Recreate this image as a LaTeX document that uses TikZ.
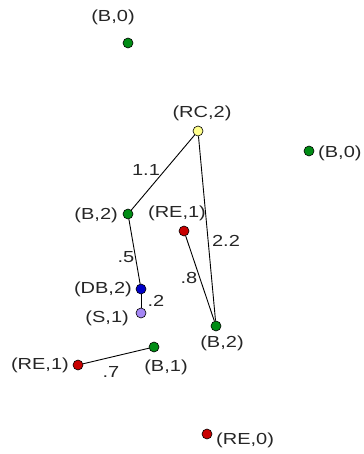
\documentclass[tikz,border=0pt]{standalone}
\usepackage{fontspec}
\setmainfont{Liberation Sans}[FakeStretch=1.25]
\definecolor{ngreen}{RGB}{0,140,20}
\definecolor{nred}{RGB}{200,0,0}
\definecolor{nyellow}{RGB}{255,255,140}
\definecolor{nblue}{RGB}{0,0,200}
\definecolor{npurple}{RGB}{165,135,245}
\begin{document}
\begin{tikzpicture}[x=1bp,y=-1bp,
  pt/.style={circle,draw=black,line width=0.6bp,inner sep=0pt,minimum size=10bp},
  gpt/.style={pt,fill=ngreen},
  rpt/.style={pt,fill=nred},
  ypt/.style={pt,fill=nyellow},
  bpt/.style={pt,fill=nblue},
  ppt/.style={pt,fill=npurple},
  lbl/.style={font=\fontsize{16bp}{18bp}\selectfont,inner sep=1bp,text=black!85},
  edge/.style={draw=black,line width=0.9bp}]
\useasboundingbox (0,0) rectangle (363,454);
\node[gpt] (b0t) at (128,43) {};
\node[ypt] (rc2) at (198,131) {};
\node[gpt] (b0r) at (309,151) {};
\node[gpt] (b2l) at (128,214) {};
\node[rpt] (re1u) at (184,231) {};
\node[bpt] (db2) at (141,289) {};
\node[ppt] (s1) at (141,313) {};
\node[gpt] (b2d) at (216,326) {};
\node[gpt] (b1) at (154,347) {};
\node[rpt] (re1l) at (78,365) {};
\node[rpt] (re0) at (207,434) {};
\node[lbl] (lb0t) at (113,17) {(B,0)};
\node[lbl] (lrc2) at (202,113) {(RC,2)};
\node[lbl,anchor=west] (lb0r) at (317,153) {(B,0)};
\node[lbl,anchor=east] (lb2l) at (119,215) {(B,2)};
\node[lbl] (lre1u) at (177,213) {(RE,1)};
\node[lbl,anchor=east] (ldb2) at (133,289) {(DB,2)};
\node[lbl,anchor=east] (ls1) at (130,318) {(S,1)};
\node[lbl] (lb2d) at (222,343) {(B,2)};
\node[lbl] (lb1) at (166,367) {(B,1)};
\node[lbl,anchor=east] (lre1l) at (70,365) {(RE,1)};
\node[lbl,anchor=west] (lre0) at (215,440) {(RE,0)};
\draw[edge] (rc2) -- (b2l);
\draw[edge] (rc2) -- (b2d);
\draw[edge] (b2l) -- (db2);
\draw[edge] (db2) -- (s1);
\draw[edge] (re1u) -- (b2d);
\draw[edge] (re1l) -- (b1);
\node[lbl] (e1) at (146,170) {1.1};
\node[lbl] (e2) at (226,241) {2.2};
\node[lbl] (e3) at (126,257) {.5};
\node[lbl] (e4) at (189,278) {.8};
\node[lbl] (e5) at (156,301) {.2};
\node[lbl] (e6) at (111,372) {.7};
\end{tikzpicture}
\end{document}
